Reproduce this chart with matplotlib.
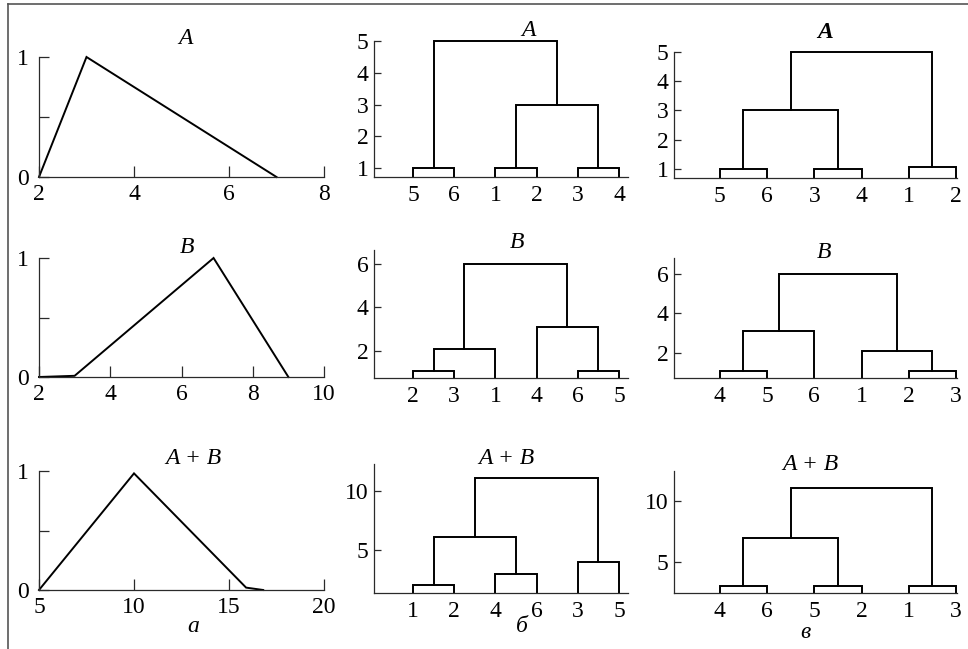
import matplotlib
matplotlib.use("Agg")
import matplotlib.pyplot as plt
from matplotlib.lines import Line2D

plt.rcParams['font.family'] = ['Liberation Serif', 'DejaVu Serif']

W, H = 968, 649

# ---------------- data: membership functions (column a) ----------------
curve_A_x = [2, 3, 7]
curve_A_y = [0, 1, 0]
curve_B_x = [2, 3, 6.9, 9]
curve_B_y = [0, 0.01, 1, 0]
curve_AB_x = [5, 10, 15.9, 16.8]
curve_AB_y = [0, 0.98, 0.02, 0]

xticks_A = [2, 4, 6, 8]
xticks_B = [2, 4, 6, 8, 10]
xticks_AB = [5, 10, 15, 20]
yticks_mf = [0, 0.5, 1]
yticklabels_mf = ["0", "", "1"]

# ---------------- data: dendrograms (columns б and в) ----------------
leaves_b_A = ["5", "6", "1", "2", "3", "4"]
merges_b_A = [("5", "6", 1.0), ("1", "2", 1.0), ("3", "4", 1.0),
              ("12", "34", 3.0), ("56", "1234", 5.0)]
yticks_b_A = [1, 2, 3, 4, 5]

leaves_v_A = ["5", "6", "3", "4", "1", "2"]
merges_v_A = [("5", "6", 1.0), ("3", "4", 1.0), ("1", "2", 1.05),
              ("56", "34", 3.0), ("5634", "12", 5.0)]
yticks_v_A = [1, 2, 3, 4, 5]

leaves_b_B = ["2", "3", "1", "4", "6", "5"]
merges_b_B = [("2", "3", 1.1), ("23", "1", 2.1), ("6", "5", 1.1),
              ("4", "65", 3.1), ("231", "465", 6.0)]
yticks_b_B = [2, 4, 6]

leaves_v_B = ["4", "5", "6", "1", "2", "3"]
merges_v_B = [("4", "5", 1.1), ("45", "6", 3.1), ("2", "3", 1.1),
              ("1", "23", 2.1), ("456", "123", 6.0)]
yticks_v_B = [2, 4, 6]

leaves_b_AB = ["1", "2", "4", "6", "3", "5"]
merges_b_AB = [("1", "2", 2.1), ("4", "6", 3.0), ("3", "5", 4.0),
               ("12", "46", 6.1), ("1246", "35", 11.1)]
yticks_b_AB = [5, 10]

leaves_v_AB = ["4", "6", "5", "2", "1", "3"]
merges_v_AB = [("4", "6", 3.0), ("5", "2", 3.0), ("1", "3", 3.0),
               ("46", "52", 7.0), ("4652", "13", 11.1)]
yticks_v_AB = [5, 10]

fig = plt.figure(figsize=(W / 100, H / 100), dpi=100)

SPINE = '#2a2a2a'
FS = 17


def add_ax(x0, x1, y0, y1):
    """pixel box (left, right, top, bottom) -> axes"""
    return fig.add_axes([x0 / W, 1 - y1 / H, (x1 - x0) / W, (y1 - y0) / H])


def ftext(x, y, s, **kw):
    fig.text(x / W, 1 - y / H, s, ha='center', va='center', fontsize=FS, **kw)


def style(ax):
    ax.patch.set_visible(False)
    for s in ['top', 'right']:
        ax.spines[s].set_visible(False)
    for s in ['left', 'bottom']:
        ax.spines[s].set_color(SPINE)
        ax.spines[s].set_linewidth(0.9)


def mf_panel(box, xs, ys, xticks, xlim):
    ax = add_ax(*box)
    style(ax)
    ax.plot(xs, ys, color='black', lw=1.4, clip_on=False, solid_joinstyle='miter')
    ax.set_xlim(*xlim)
    ax.set_ylim(0, 1)
    ax.set_xticks(xticks)
    ax.set_xticklabels([str(t) for t in xticks])
    ax.set_yticks(yticks_mf)
    ax.set_yticklabels(yticklabels_mf)
    ax.tick_params(axis='x', direction='in', length=8, width=0.9, color=SPINE,
                   labelsize=FS, pad=5)
    ax.tick_params(axis='y', direction='in', length=7, width=0.9, color=SPINE,
                   labelsize=FS, pad=7)
    return ax


def dendro_panel(box, leaves, merges, yticks, xlim, ylim):
    ax = add_ax(*box)
    style(ax)
    base = ylim[0]
    pos = {lab: (i + 1, base) for i, lab in enumerate(leaves)}
    for a, b, h in merges:
        xa, ha = pos[a]
        xb, hb = pos[b]
        ax.plot([xa, xa, xb, xb], [ha, h, h, hb], color='black', lw=1.4,
                clip_on=False, solid_joinstyle='miter')
        pos[a + b] = ((xa + xb) / 2, h)
    ax.set_xlim(*xlim)
    ax.set_ylim(*ylim)
    ax.set_xticks(range(1, len(leaves) + 1))
    ax.set_xticklabels(leaves)
    ax.set_yticks(yticks)
    ax.set_yticklabels([str(t) for t in yticks])
    ax.tick_params(axis='x', length=0, labelsize=FS, pad=6)
    ax.tick_params(axis='y', direction='in', length=5, width=0.9, color=SPINE,
                   labelsize=FS, pad=4)
    return ax


# column a
mf_panel((39, 324, 57, 177), curve_A_x, curve_A_y, xticks_A, (2, 8))
mf_panel((39, 324, 258, 377), curve_B_x, curve_B_y, xticks_B, (2, 10))
mf_panel((39, 324, 471, 590), curve_AB_x, curve_AB_y, xticks_AB, (5, 20))

# column б
xl_b = (0.053, 6.22)
dendro_panel((374, 628, 41, 177), leaves_b_A, merges_b_A, yticks_b_A, xl_b, (0.72, 5.0))
dendro_panel((374, 628, 250, 378), leaves_b_B, merges_b_B, yticks_b_B, xl_b, (0.76, 6.64))
dendro_panel((374, 628, 464, 593), leaves_b_AB, merges_b_AB, yticks_b_AB, xl_b, (1.4, 12.26))

# column в
xl_v = (0.03, 6.02)
dendro_panel((674, 957, 52, 178), leaves_v_A, merges_v_A, yticks_v_A, xl_v, (0.69, 5.0))
dendro_panel((674, 957, 258, 378), leaves_v_B, merges_v_B, yticks_v_B, xl_v, (0.74, 6.8))
dendro_panel((674, 957, 471, 593), leaves_v_AB, merges_v_AB, yticks_v_AB, xl_v, (2.45, 12.5))

# panel titles
ftext(185, 38, "A", style='italic')
ftext(187, 247, "B", style='italic')
ftext(193, 458, "A + B", style='italic')
ftext(528, 31, "A", style='italic')
ftext(517, 243, "B", style='italic')
ftext(506, 458, "A + B", style='italic')
ftext(825, 33, "A", style='italic', weight='bold')
ftext(824, 252, "B", style='italic')
ftext(810, 465, "A + B", style='italic')

# column labels
ftext(193, 626, "а", style='italic')
ftext(522, 626, "б", style='italic')
ftext(805, 633, "в", style='italic')

# frame lines (top and left)
fig.add_artist(Line2D([8 / W, 1], [1 - 4 / H, 1 - 4 / H], transform=fig.transFigure,
                      color='#555555', lw=1.2))
fig.add_artist(Line2D([8 / W, 8 / W], [0, 1 - 4 / H], transform=fig.transFigure,
                      color='#555555', lw=1.2))

fig.savefig("out.png", dpi=100, facecolor='white')
